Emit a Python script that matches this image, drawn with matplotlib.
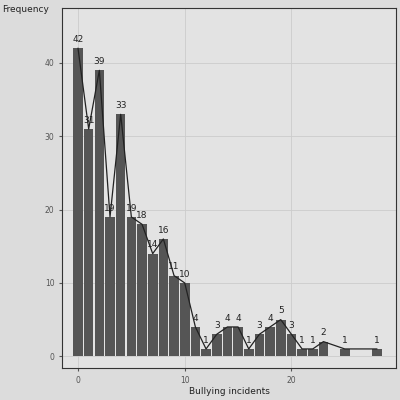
import matplotlib.pyplot as plt

incidents = [0, 1, 2, 3, 4, 5, 6, 7, 8, 9, 10, 11, 12, 13, 14, 15, 16, 17, 18, 19, 20, 21, 22, 23, 25, 28]
frequency = [42, 31, 39, 19, 33, 19, 18, 14, 16, 11, 10, 4, 1, 3, 4, 4, 1, 3, 4, 5, 3, 1, 1, 2, 1, 1]

fig = plt.figure(figsize=(4, 4), dpi=100, facecolor="#dcdcdc")
ax = fig.add_axes([0.155, 0.08, 0.835, 0.9])
ax.set_facecolor("#e3e3e3")
ax.grid(True, color="#cccccc", linewidth=0.6)
ax.set_axisbelow(True)

ax.bar(incidents, frequency, width=0.9, color="#555555")
ax.plot(incidents, frequency, color="#222222", linewidth=0.9)
for x, y in zip(incidents, frequency):
    ax.text(x, y + 0.6, str(y), ha="center", va="bottom", fontsize=6.5, color="#222222")

ax.set_xlim(-1.5, 29.8)
ax.set_ylim(-1.6, 47.5)
ax.set_xticks([0, 10, 20])
ax.set_yticks([0, 10, 20, 30, 40])
ax.tick_params(labelsize=5.5, colors="#555555", length=2)
for s in ax.spines.values():
    s.set_color("#333333")
    s.set_linewidth(0.8)

ax.set_xlabel("Bullying incidents", fontsize=6.5, color="#222222", labelpad=2)
fig.text(0.005, 0.975, "Frequency", fontsize=6.5, color="#222222", va="center")

fig.savefig("out.png", dpi=100, facecolor=fig.get_facecolor())
